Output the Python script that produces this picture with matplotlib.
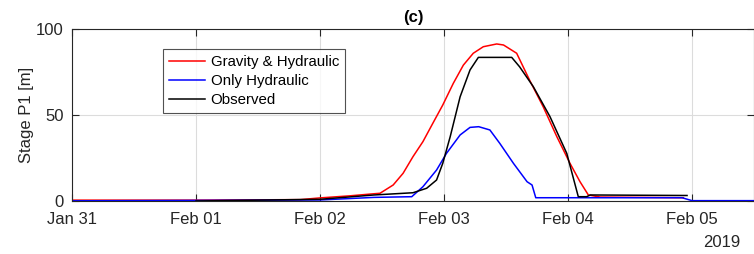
import numpy as np
import matplotlib
matplotlib.use("Agg")
import matplotlib.pyplot as plt
import matplotlib.dates as mdates
from datetime import datetime, timedelta

plt.rcParams['font.family'] = ['Liberation Sans', 'DejaVu Sans']

base = datetime(2019, 1, 31)

# time in days after Jan 31 2019, stage in m
grav_t = [0.0, 1.0, 1.84, 2.0, 2.24, 2.40, 2.484, 2.59, 2.67, 2.75, 2.83, 2.91, 2.99,
          3.075, 3.156, 3.236, 3.317, 3.425, 3.48, 3.586, 3.69, 3.80, 3.91, 4.016,
          4.097, 4.164, 4.26, 4.93]
grav_v = [0.5, 0.5, 0.8, 1.8, 3.0, 4.0, 4.5, 9.3, 16.1, 25.8, 34.5, 45.2, 55.8,
          68.4, 79.0, 85.9, 89.7, 91.3, 90.7, 85.9, 70.3, 54.8, 37.4, 21.9,
          11.2, 3.5, 2.3, 1.9]

hyd_t = [0.0, 2.0, 2.435, 2.74, 2.83, 2.94, 3.02, 3.13, 3.21, 3.28, 3.37, 3.45,
         3.56, 3.67, 3.71, 3.74, 4.92, 5.0, 5.5]
hyd_v = [0.1, 0.6, 2.1, 2.5, 8.3, 18.0, 27.7, 38.4, 42.8, 43.2, 41.3, 33.5,
         21.9, 11.2, 9.3, 1.9, 1.9, 0.2, 0.2]

obs_t = [1.0, 2.0, 2.435, 2.75, 2.86, 2.94, 2.99, 3.05, 3.13, 3.21, 3.277, 3.546,
         3.61, 3.72, 3.855, 3.99, 4.083, 4.15, 4.18, 4.96]
obs_v = [0.0, 1.0, 3.5, 4.8, 7.4, 12.2, 21.9, 37.4, 60.6, 76.2, 83.5, 83.5,
         78.0, 66.5, 49.0, 27.7, 2.5, 2.5, 3.5, 3.2]

labels = ['Gravity & Hydraulic', 'Only Hydraulic', 'Observed']
colors = ['#ff0000', '#0000ff', '#000000']

def to_dates(ts):
    return [base + timedelta(days=t) for t in ts]

fig = plt.figure(figsize=(7.54, 2.54), dpi=100)
ax = fig.add_axes([72/754, 1-201/254, 682/754, 172/254])

for (t, v), lab, c in zip([(grav_t, grav_v), (hyd_t, hyd_v), (obs_t, obs_v)], labels, colors):
    ax.plot(to_dates(t), v, color=c, lw=1.1, label=lab)

ax.set_xlim(base, base + timedelta(days=5.5))
ax.set_ylim(0, 100)
ax.set_yticks([0, 50, 100])
ax.xaxis.set_major_locator(mdates.DayLocator())
ax.xaxis.set_major_formatter(mdates.DateFormatter('%b %d'))

tc = '#262626'
ax.tick_params(direction='in', length=5, width=0.8, colors=tc, labelsize=12,
               top=True, right=True)
ax.tick_params(axis='x', pad=8)
ax.tick_params(axis='y', pad=6)
for s in ax.spines.values():
    s.set_color(tc)
    s.set_linewidth(0.8)
ax.grid(True, color='#dcdcdc', lw=0.8)
ax.set_axisbelow(True)

ax.set_ylabel('Stage P1 [m]', fontsize=12, color=tc, labelpad=1.5)
ax.set_title('(c)', fontsize=12, fontweight='bold', color='black', pad=5)
ax.text(0.953, -0.24, '2019', transform=ax.transAxes, ha='center', va='center',
        fontsize=12, color=tc)

leg = ax.legend(loc='upper left', bbox_to_anchor=(0.133, 0.884), fontsize=10.8,
                frameon=True, fancybox=False, edgecolor='#262626', handlelength=2.4,
                borderpad=0.4, labelspacing=0.33, handletextpad=0.4, borderaxespad=0)
leg.get_frame().set_linewidth(0.8)

fig.savefig('out.png', dpi=100)
